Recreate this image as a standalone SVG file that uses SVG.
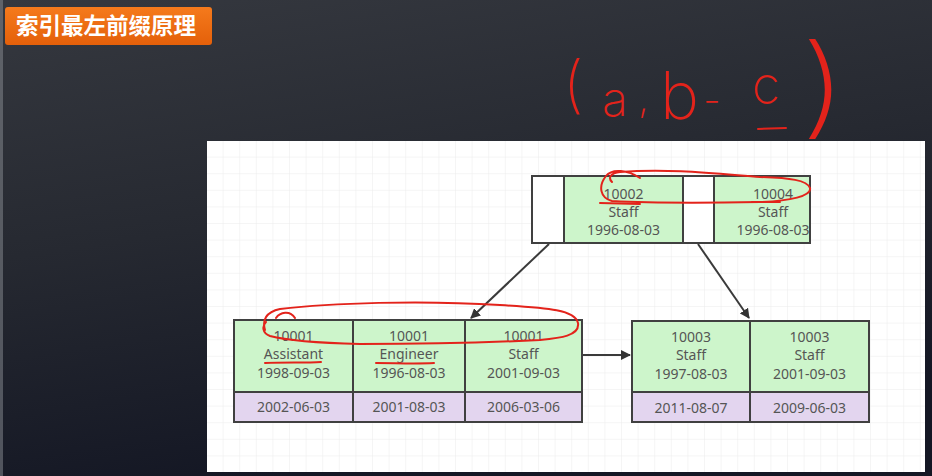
<svg xmlns="http://www.w3.org/2000/svg" width="932" height="476" viewBox="0 0 932 476">
  <defs>
    <linearGradient id="bg" x1="0" y1="0" x2="0.3" y2="1">
      <stop offset="0" stop-color="#35383f"/>
      <stop offset="0.5" stop-color="#262931"/>
      <stop offset="1" stop-color="#141724"/>
    </linearGradient>
    <linearGradient id="badge" x1="0" y1="0" x2="0" y2="1">
      <stop offset="0" stop-color="#f57a1c"/>
      <stop offset="1" stop-color="#e4600a"/>
    </linearGradient>
    <pattern id="grid" x="207" y="141" width="16.6" height="16.6" patternUnits="userSpaceOnUse">
      <path d="M16.6 0 V16.6 M0 16.6 H16.6" fill="none" stroke="#ececec" stroke-width="1"/>
    </pattern>
    <marker id="arr" viewBox="0 0 10 10" refX="9" refY="5" markerWidth="10" markerHeight="10" markerUnits="userSpaceOnUse" orient="auto">
      <path d="M0 0 L10 5 L0 10 Z" fill="#333"/>
    </marker>
    <style>
      .t{font-family:"Noto Sans","Liberation Sans",sans-serif;font-size:14px;fill:#555555;text-anchor:middle}
      .g{fill:#cdf5cb;stroke:#404040;stroke-width:2}
      .p{fill:#e3d5ef;stroke:#404040;stroke-width:2}
      .w{fill:#ffffff;stroke:#404040;stroke-width:2}
      .c{stroke:#3a3a3a;stroke-width:2;fill:none;marker-end:url(#arr)}
      .r{fill:none;stroke:#e3231b;stroke-width:2;stroke-linecap:round;stroke-linejoin:round}
      .h{font-family:Inter,"Open Sans","Liberation Sans",sans-serif;font-weight:200;fill:#e3231b}
    </style>
  </defs>
  <rect width="932" height="476" fill="url(#bg)"/>
  <rect x="0" y="0" width="3" height="476" fill="#8a8d94" opacity="0.5"/>

  <g id="title">
    <rect x="5" y="7" width="207" height="38" rx="3" fill="url(#badge)"/>
    <text x="106" y="34" text-anchor="middle" font-family="Noto Sans CJK SC,sans-serif" font-size="22.5" font-weight="bold" fill="#ffffff">索引最左前缀原理</text>
  </g>

  <g id="board">
    <rect x="207" y="141" width="718" height="331" fill="#ffffff"/>
    <rect x="207" y="141" width="718" height="331" fill="url(#grid)"/>
  </g>

  <g id="connectors">
    <line class="c" x1="549" y1="244" x2="471" y2="318"/>
    <line class="c" x1="698" y1="244" x2="749" y2="318"/>
    <line class="c" x1="583" y1="355" x2="630" y2="355"/>
  </g>

  <g id="root-node">
    <rect class="w" x="532" y="176" width="32" height="67"/>
    <rect class="g" x="564" y="176" width="119" height="67"/>
    <rect class="w" x="683" y="176" width="31" height="67"/>
    <rect class="g" x="714" y="176" width="96" height="67"/>
    <text class="t" x="623.5" y="199">10002</text>
    <text class="t" x="623.5" y="217">Staff</text>
    <text class="t" x="623.5" y="235">1996-08-03</text>
    <text class="t" x="773" y="199">10004</text>
    <text class="t" x="773" y="217">Staff</text>
    <text class="t" x="773" y="235">1996-08-03</text>
  </g>

  <g id="leaf-left">
    <rect class="g" x="234" y="320" width="119" height="72"/>
    <rect class="g" x="353" y="320" width="112" height="72"/>
    <rect class="g" x="465" y="320" width="117" height="72"/>
    <rect class="p" x="234" y="392" width="119" height="30"/>
    <rect class="p" x="353" y="392" width="112" height="30"/>
    <rect class="p" x="465" y="392" width="117" height="30"/>
    <text class="t" x="293.5" y="341">10001</text>
    <text class="t" x="293.5" y="359">Assistant</text>
    <text class="t" x="293.5" y="378">1998-09-03</text>
    <text class="t" x="409" y="341">10001</text>
    <text class="t" x="409" y="359">Engineer</text>
    <text class="t" x="409" y="378">1996-08-03</text>
    <text class="t" x="523.5" y="341">10001</text>
    <text class="t" x="523.5" y="359">Staff</text>
    <text class="t" x="523.5" y="378">2001-09-03</text>
    <text class="t" x="293.5" y="412">2002-06-03</text>
    <text class="t" x="409" y="412">2001-08-03</text>
    <text class="t" x="523.5" y="412">2006-03-06</text>
  </g>

  <g id="leaf-right">
    <rect class="g" x="632" y="321" width="118" height="71"/>
    <rect class="g" x="750" y="321" width="119" height="71"/>
    <rect class="p" x="632" y="392" width="118" height="30"/>
    <rect class="p" x="750" y="392" width="119" height="30"/>
    <text class="t" x="691" y="342">10003</text>
    <text class="t" x="691" y="360">Staff</text>
    <text class="t" x="691" y="379">1997-08-03</text>
    <text class="t" x="809.5" y="342">10003</text>
    <text class="t" x="809.5" y="360">Staff</text>
    <text class="t" x="809.5" y="379">2001-09-03</text>
    <text class="t" x="691" y="413">2011-08-07</text>
    <text class="t" x="809.5" y="413">2009-06-03</text>
  </g>

  <g id="annotations">
    <text class="h" font-size="62" x="563" y="106">(</text>
    <text class="h" font-size="48" x="602" y="116">a</text>
    <text class="h" font-size="40" x="638" y="112">,</text>
    <text class="h" font-size="66" x="660" y="119">b</text>
    <text class="h" font-size="40" x="703" y="114">-</text>
    <text class="h" font-size="52" x="752" y="104">c</text>
    <path class="r" d="M758 129 L786 128"/>
    <text class="h" font-size="110" font-weight="100" transform="translate(800 124) scale(1.3 1)" x="0" y="0">)</text>

    <path class="r" d="M640 178 C628 170 612 168 606 176 C598 186 600 198 612 201 C650 203 700 203 760 202 C790 201 812 196 810 188 C807 180 790 178 760 177 C720 174 670 168 620 172 C610 173 608 178 612 182"/>
    <path class="r" d="M600 203 L640 204 M752 202 L780 202"/>

    <path class="r" d="M276 318 C280 312 290 310 295 318 M265 330 C262 320 266 312 280 309 C330 303 420 300 500 305 C550 308 575 310 578 323 C580 336 560 338 540 340 C480 343 420 344 360 344 C320 343 285 340 270 336 C262 333 262 326 266 322"/>
    <path class="r" d="M265 363 C285 362 305 363 321 362 M376 363 C395 363 415 364 434 363"/>
  </g>
</svg>
